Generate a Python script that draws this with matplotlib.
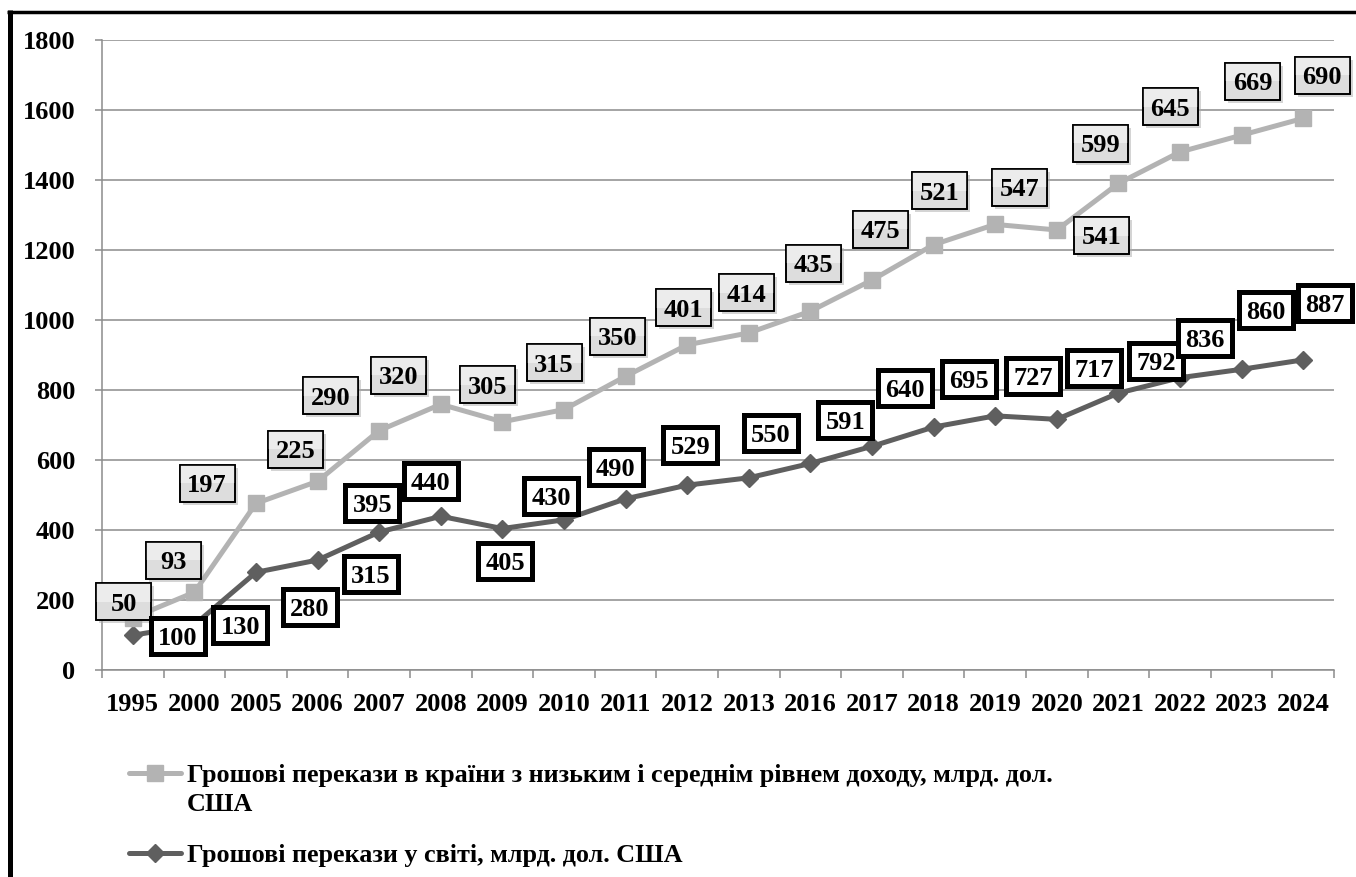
import numpy as np
import matplotlib
matplotlib.use('Agg')
import matplotlib.pyplot as plt
from matplotlib.patches import Rectangle
from matplotlib.transforms import ScaledTranslation
from matplotlib.lines import Line2D

# ---------------- data ----------------
years = ['1995', '2000', '2005', '2006', '2007', '2008', '2009', '2010', '2011', '2012',
         '2013', '2016', '2017', '2018', '2019', '2020', '2021', '2022', '2023', '2024']
low_mid = [50, 93, 197, 225, 290, 320, 305, 315, 350, 401,
           414, 435, 475, 521, 547, 541, 599, 645, 669, 690]
world = [100, 130, 280, 315, 395, 440, 405, 430, 490, 529,
         550, 591, 640, 695, 727, 717, 792, 836, 860, 887]
y_ticks = [0, 200, 400, 600, 800, 1000, 1200, 1400, 1600, 1800]
label_low = "Грошові перекази в країни з низьким і середнім рівнем доходу, млрд. дол.\nСША"
label_world = "Грошові перекази у світі, млрд. дол. США"

# label box offsets from their point, in pixels (dx right, dy down)
low_off = [(-9, -16), (-21, -32), (-49, -20), (-22, -32), (-49, -35), (-42, -29),
           (-15, -37), (-10, -47), (-8, -40), (-4, -37), (-2, -40), (3, -48),
           (8, -51), (6, -54), (24, -37), (45, 5.5), (-18, -40), (-10, -45),
           (11, -54), (19, -43)]
world_off = [(45, 1), (46, 0), (54, 35), (53, 14), (-7, -29), (-10, -35),
             (3, 32), (-13, -24), (-10, -32), (3, -40), (22, -45), (35, -43),
             (33, -58), (35, -48), (38, -40), (37, -51), (38, -32), (25, -40),
             (24, -59), (22, -57)]

# ---------------- style ----------------
plt.rcParams['font.family'] = ['Liberation Serif', 'DejaVu Serif']
plt.rcParams['font.weight'] = 'bold'
FS = 19
LFS = 18.8
LIGHT = '#b3b3b3'
DARK = '#5f5f5f'
GRID = '#8c8c8c'

W, H, DPI = 1356, 877, 100
fig = plt.figure(figsize=(W / DPI, H / DPI), dpi=DPI)
ax = fig.add_axes([102 / W, 1 - 670.3 / H, 1232 / W, 630 / H])

x = np.arange(len(years))
stacked = np.array(world) + np.array(low_mid)

ax.set_xlim(-0.5, len(years) - 0.5)
ax.set_ylim(0, 1800)
ax.set_yticks(y_ticks)
ax.set_yticklabels([str(v) for v in y_ticks], fontsize=FS, fontweight='bold')
ax.yaxis.grid(True, color=GRID, lw=1.1)
ax.set_axisbelow(True)

ax.set_xticks(np.arange(-0.5, len(years), 1.0))
ax.set_xticklabels([''] * (len(years) + 1))
ax.set_xticks(x, minor=True)
ax.set_xticklabels(years, minor=True, fontsize=FS, fontweight='bold')
ax.tick_params(axis='x', which='major', length=6, width=1.1, color=GRID, direction='out')
ax.tick_params(axis='x', which='minor', length=0, pad=16)
ax.tick_params(axis='y', length=5, width=1.1, color=GRID, direction='out', pad=14)

for s in ['top', 'right']:
    ax.spines[s].set_visible(False)
for s in ['left', 'bottom']:
    ax.spines[s].set_color(GRID)
    ax.spines[s].set_linewidth(1.1)

ax.plot(x, world, color=DARK, lw=3.6, marker='D', ms=9.5, zorder=3, clip_on=False)
ax.plot(x, stacked, color=LIGHT, lw=3.6, marker='s', ms=12, zorder=3, clip_on=False)

zc = [5.0]


def add_label(i, yv, txt, dx, dy, dark):
    tr = ScaledTranslation(i, yv, ax.transData)
    cx, cy = dx, -dy
    zc[0] += 0.01
    if dark:
        w, h, lw, fc = 54, 36, 3.6, 'white'
    else:
        w, h, lw, fc = 55, 37, 1.2, '#dddddd'
        sh = Rectangle((cx - w / 2 + 3, cy - h / 2 - 3), w, h, transform=tr,
                       fc='#aaaaaa', ec='none', alpha=0.5, zorder=zc[0], clip_on=False)
        ax.add_patch(sh)
        hi = Rectangle((cx - w / 2, cy), w, h / 2, transform=tr,
                       fc='#ececec', ec='none', zorder=zc[0] + 0.0015, clip_on=False)
    rect = Rectangle((cx - w / 2, cy - h / 2), w, h, transform=tr, fc=fc,
                     ec='black', lw=lw, zorder=zc[0] + 0.001, clip_on=False)
    ax.add_patch(rect)
    if not dark:
        ax.add_patch(hi)
        edge = Rectangle((cx - w / 2, cy - h / 2), w, h, transform=tr, fc='none',
                         ec='black', lw=lw, zorder=zc[0] + 0.0018, clip_on=False)
        ax.add_patch(edge)
    ax.annotate(txt, xy=(i, yv), xytext=(cx, cy - 9), textcoords='offset pixels',
                ha='center', va='baseline', fontsize=FS, fontweight='bold',
                zorder=zc[0] + 0.002, annotation_clip=False)


for i in range(len(years)):
    add_label(x[i], stacked[i], str(low_mid[i]), low_off[i][0], low_off[i][1], False)
for i in range(len(years)):
    add_label(x[i], world[i], str(world[i]), world_off[i][0], world_off[i][1], True)


# ---------------- legend (handle aligned with first text line) ----------------
def fx(px):
    return px / W


def fy(py):
    return 1 - py / H


legend_items = [(label_low, LIGHT, 's', 12, 773), (label_world, DARK, 'D', 9.5, 853)]
for lab, col, mk, ms, ypix in legend_items:
    fig.add_artist(Line2D([fx(129), fx(181)], [fy(ypix), fy(ypix)], transform=fig.transFigure,
                          color=col, lw=3.6, solid_capstyle='round'))
    fig.add_artist(Line2D([fx(155)], [fy(ypix)], transform=fig.transFigure,
                          color=col, marker=mk, ms=ms, lw=0))
    for k, line in enumerate(lab.split('\n')):
        fig.text(fx(187), fy(ypix + 9 + 29 * k), line, ha='left', va='baseline',
                 fontsize=LFS, fontweight='bold')

# outer frame (left and top only)
fig.add_artist(Line2D([9.5 / W, 9.5 / W], [-0.1, 1 - 9.5 / H], transform=fig.transFigure,
                      color='black', lw=3.6, solid_capstyle='butt'))
fig.add_artist(Line2D([7 / W, 1.05], [1 - 11.5 / H, 1 - 11.5 / H], transform=fig.transFigure,
                      color='black', lw=2.5, solid_capstyle='butt'))

fig.savefig('out.png', dpi=DPI, facecolor='white')
